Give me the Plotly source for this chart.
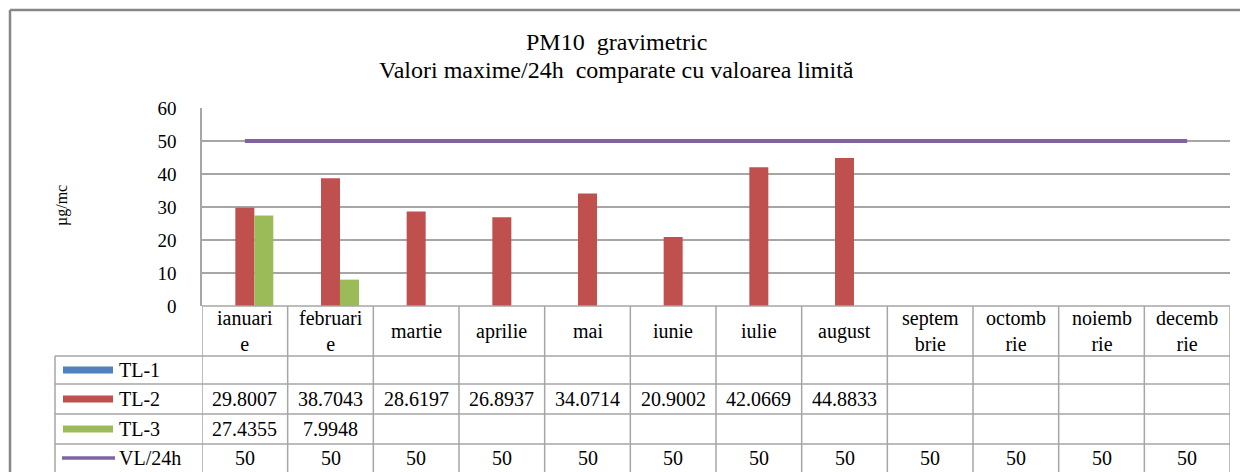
import plotly.graph_objects as go

# ---- data ----
months = ["ianuarie", "februarie", "martie", "aprilie", "mai", "iunie",
          "iulie", "august", "septembrie", "octombrie", "noiembrie", "decembrie"]
month_labels = ["ianuari<br>e", "februari<br>e", "martie", "aprilie", "mai", "iunie",
                "iulie", "august", "septem<br>brie", "octomb<br>rie", "noiemb<br>rie", "decemb<br>rie"]
tl1 = [None] * 12
tl2 = [29.8007, 38.7043, 28.6197, 26.8937, 34.0714, 20.9002, 42.0669, 44.8833,
       None, None, None, None]
tl3 = [27.4355, 7.9948, None, None, None, None, None, None, None, None, None, None]
vl24 = [50] * 12
series_names = ["TL-1", "TL-2", "TL-3", "VL/24h"]
y_ticks = [0, 10, 20, 30, 40, 50, 60]

colors = {"TL-1": "#4F81BD", "TL-2": "#C0504D", "TL-3": "#9BBB59", "VL/24h": "#8064A2"}
FONT = "'Times New Roman', 'Liberation Serif', 'DejaVu Serif', serif"
GRID = "#A6A6A6"

# page body has an 8px margin: figure pixel = screen pixel - 8
OFF = 8
W, H = 1248 - OFF, 472 - OFF
PL, PR, PT, PB = 202, 1230, 108, 306  # plot area in screen pixels


def px_x(p):
    return (p - PL) / (PR - PL)


def px_y(p):
    return (PB - p) / (PB - PT)


xs = list(range(len(months)))
fig = go.Figure()
for name, vals in zip(series_names[:3], [tl1, tl2, tl3]):
    fig.add_trace(go.Bar(x=xs, y=vals, name=name, marker_color=colors[name],
                         marker_line_width=0, showlegend=False))
fig.add_trace(go.Scatter(x=xs, y=vl24, name="VL/24h", mode="lines",
                         line=dict(color=colors["VL/24h"], width=4), showlegend=False))

shapes = []
annotations = []

# outer frame
shapes.append(dict(type="line", xref="paper", yref="paper",
                   x0=px_x(10), x1=px_x(1260), y0=px_y(10), y1=px_y(10),
                   line=dict(color="#878787", width=2.5)))
shapes.append(dict(type="line", xref="paper", yref="paper",
                   x0=px_x(10), x1=px_x(10), y0=px_y(10), y1=px_y(480),
                   line=dict(color="#878787", width=2.5)))

# table geometry (screen pixel rows)
row_edges = [306, 356, 384, 414, 444, 480]
TL = 55
shapes.append(dict(type="line", xref="paper", yref="paper", x0=0, x1=1,
                   y0=px_y(306), y1=px_y(306), line=dict(color=GRID, width=1.5)))
for r in row_edges[1:5]:
    shapes.append(dict(type="line", xref="paper", yref="paper", x0=px_x(TL), x1=1,
                       y0=px_y(r), y1=px_y(r), line=dict(color=GRID, width=1.5)))
for i in range(len(months) + 1):
    shapes.append(dict(type="line", xref="x", yref="paper", x0=i - 0.5, x1=i - 0.5,
                       y0=px_y(306), y1=px_y(480), line=dict(color=GRID, width=1.5)))
shapes.append(dict(type="line", xref="paper", yref="paper", x0=px_x(TL), x1=px_x(TL),
                   y0=px_y(356), y1=px_y(480), line=dict(color=GRID, width=1.5)))

TFS = 20
# header labels
for i, lab in enumerate(month_labels):
    annotations.append(dict(x=i, y=px_y(331), xref="x", yref="paper", text=lab,
                            showarrow=False, font=dict(family=FONT, size=TFS, color="black"),
                            xanchor="center", yanchor="middle"))

# rows
row_mid = [370, 399, 429, 458]
row_vals = [tl1, tl2, tl3, vl24]
for k, (name, vals) in enumerate(zip(series_names, row_vals)):
    cy = row_mid[k]
    if name == "VL/24h":
        shapes.append(dict(type="line", xref="paper", yref="paper", x0=px_x(62), x1=px_x(115),
                           y0=px_y(cy), y1=px_y(cy), line=dict(color=colors[name], width=3.5)))
    else:
        shapes.append(dict(type="rect", xref="paper", yref="paper", x0=px_x(63), x1=px_x(113),
                           y0=px_y(cy - 3.5), y1=px_y(cy + 3.5), fillcolor=colors[name],
                           line=dict(width=0)))
    annotations.append(dict(x=px_x(117), y=px_y(cy), xref="paper", yref="paper", text=name,
                            showarrow=False, font=dict(family=FONT, size=TFS, color="black"),
                            xanchor="left", yanchor="middle"))
    for i, v in enumerate(vals):
        if v is None:
            continue
        txt = f"{v:g}" if isinstance(v, int) else f"{v:.4f}"
        annotations.append(dict(x=i, y=px_y(cy), xref="x", yref="paper", text=txt,
                                showarrow=False, font=dict(family=FONT, size=TFS, color="black"),
                                xanchor="center", yanchor="middle"))

# y-axis title
annotations.append(dict(x=px_x(62), y=px_y(206), xref="paper", yref="paper", text="µg/mc",
                        textangle=-90, showarrow=False,
                        font=dict(family=FONT, size=16, color="black"),
                        xanchor="center", yanchor="middle"))
# title
annotations.append(dict(x=px_x(616), y=px_y(42), xref="paper", yref="paper",
                        text="PM10  gravimetric", showarrow=False,
                        font=dict(family=FONT, size=24, color="black"),
                        xanchor="center", yanchor="middle"))
annotations.append(dict(x=px_x(616), y=px_y(70), xref="paper", yref="paper",
                        text="Valori maxime/24h  comparate cu valoarea limită", showarrow=False,
                        font=dict(family=FONT, size=24, color="black"),
                        xanchor="center", yanchor="middle"))

fig.update_layout(
    width=W, height=H, autosize=False,
    margin=dict(l=PL - OFF, r=W - (PR - OFF), t=PT - OFF, b=H - (PB - OFF), pad=0),
    paper_bgcolor="white", plot_bgcolor="white",
    barmode="group", bargap=0.335, bargroupgap=0,
    shapes=shapes, annotations=annotations,
    font=dict(family=FONT, color="black"),
    xaxis=dict(range=[-0.5, 11.5], showticklabels=False, showgrid=False, zeroline=False,
               showline=False, fixedrange=True),
    yaxis=dict(range=[0, 60], tickvals=y_ticks, showgrid=True, gridcolor=GRID, gridwidth=1.5,
               zeroline=False, showline=True, linecolor=GRID, linewidth=1.5,
               tickfont=dict(family=FONT, size=19, color="black"),
               ticklabelstandoff=20, fixedrange=True),
)

fig.write_html("out.html", config={"displayModeBar": False})
